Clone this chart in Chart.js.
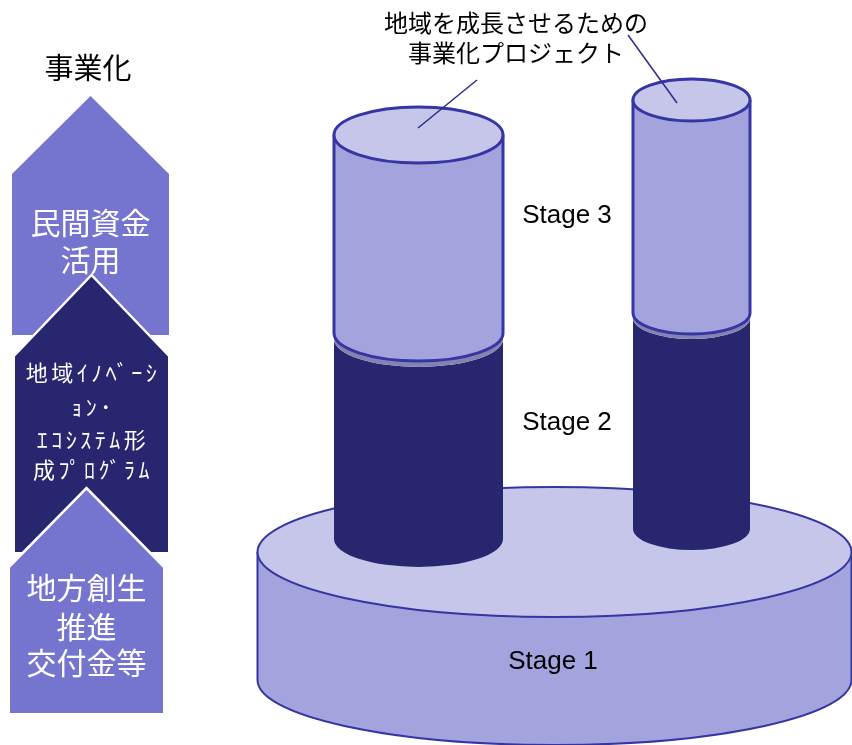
<!DOCTYPE html>
<html>
<head>
<meta charset="utf-8">
<script src="https://cdn.jsdelivr.net/npm/chart.js@4.4.1/dist/chart.umd.min.js"></script>
<style>
  html, body { margin: 0; padding: 0; background: #ffffff; }
  #wrap { width: 852px; height: 745px; }
</style>
</head>
<body>
<div id="wrap"><canvas id="chart" width="852" height="745"></canvas></div>
<script>
// diagram, in axis units (x 0-852, y 0-745 from the top)
const stageNames = ['Stage 1', 'Stage 2', 'Stage 3'];
const stageLabelX = [553, 567, 567];
const stageLabelY = [662, 423, 216];

// base disc (Stage 1)
const baseCenterX = 554.5;
const baseRadiusX = 297;
const baseRadiusY = 65;
const baseTop = 552;
const baseBottom = 680;

// two project columns: Stage 2 (dark) under Stage 3 (light)
const columnCenterX = [418.5, 691.5];
const columnRadiusX = [84.5, 58.5];
const columnRadiusY = [28, 21];
const stage3Top = [135, 100];
const stage3Bottom = [333, 313];
const stage2Top = [339, 318];
const stage2Bottom = [539, 529];

// callout
const calloutText = ['地域を成長させるための', '事業化プロジェクト'];
const calloutLineX = [[477, 418], [628, 677]];
const calloutLineY = [[80, 128], [35, 103]];

// left arrows
const arrowTitle = '事業化';
const arrowTexts = [
  ['民間資金', '活用'],
  ['地域ｲﾉﾍﾞｰｼ', 'ｮﾝ･', 'ｴｺｼｽﾃﾑ形', '成ﾌﾟﾛｸﾞﾗﾑ'],
  ['地方創生', '推進', '交付金等']
];
const arrowLeft = [12, 15, 10];
const arrowRight = [169, 168, 163];
const arrowTip = [96, 275, 488];
const arrowShoulder = [174, 355, 566];
const arrowBottom = [335, 552, 713];
const arrowTextY = [[223, 260], [373, 407, 440, 470], [588, 627, 663]];

const LIGHT = '#c6c6ea';
const MID = '#a3a3de';
const DARK = '#27266f';
const EDGE = '#3535a3';
const ARROW = '#7574cf';

function drawCylinderBody(ctx, cx, rx, top, bottom, ryTop, ryBot, fill) {
  ctx.beginPath();
  ctx.moveTo(cx - rx, top);
  ctx.lineTo(cx - rx, bottom);
  ctx.ellipse(cx, bottom, rx, ryBot, 0, Math.PI, 0, true);
  ctx.lineTo(cx + rx, top);
  ctx.ellipse(cx, top, rx, ryTop, 0, 0, Math.PI, false);
  ctx.closePath();
  ctx.fillStyle = fill;
  ctx.fill();
}

const diagramPlugin = {
  id: 'diagram',
  beforeDatasetsDraw(chart) {
    const ctx = chart.ctx;
    const sx = chart.scales.x, sy = chart.scales.y;
    const X = v => sx.getPixelForValue(v);
    const Y = v => sy.getPixelForValue(v);
    const k = X(1) - X(0);
    ctx.save();

    // arrows
    arrowTexts.forEach(function(lines, i) {
      const l = X(arrowLeft[i]), r = X(arrowRight[i]), c = (l + r) / 2;
      ctx.beginPath();
      ctx.moveTo(c, Y(arrowTip[i]));
      ctx.lineTo(r, Y(arrowShoulder[i]));
      ctx.lineTo(r, Y(arrowBottom[i]));
      ctx.lineTo(l, Y(arrowBottom[i]));
      ctx.lineTo(l, Y(arrowShoulder[i]));
      ctx.closePath();
      ctx.fillStyle = i === 1 ? DARK : ARROW;
      ctx.fill();
      if (i > 0) {
        ctx.beginPath();
        ctx.moveTo(l - 3, Y(arrowShoulder[i]) + 3);
        ctx.lineTo(c, Y(arrowTip[i]));
        ctx.lineTo(r + 3, Y(arrowShoulder[i]) + 3);
        ctx.strokeStyle = '#ffffff';
        ctx.lineWidth = 2.5;
        ctx.stroke();
      }
      ctx.fillStyle = '#ffffff';
      ctx.textAlign = 'center';
      ctx.textBaseline = 'middle';
      if (i === 1) {
        ctx.font = '22px "Noto Sans CJK JP"';
        ctx.letterSpacing = '3.5px';
      } else {
        ctx.font = '30px "Noto Sans CJK JP"';
        ctx.letterSpacing = '0px';
      }
      lines.forEach(function(t, j) {
        ctx.fillText(t, c + (i === 1 ? 1.5 : 0), Y(arrowTextY[i][j]));
      });
      ctx.letterSpacing = '0px';
    });

    ctx.fillStyle = '#000000';
    ctx.font = '29px "Noto Sans CJK JP"';
    ctx.textAlign = 'center';
    ctx.textBaseline = 'middle';
    ctx.fillText(arrowTitle, X(88), Y(68));

    // base disc
    const bcx = X(baseCenterX), brx = baseRadiusX * k, bry = baseRadiusY * k;
    drawCylinderBody(ctx, bcx, brx, Y(baseTop), Y(baseBottom), bry, bry, MID);
    ctx.strokeStyle = EDGE;
    ctx.lineWidth = 2;
    ctx.beginPath();
    ctx.moveTo(bcx - brx, Y(baseTop));
    ctx.lineTo(bcx - brx, Y(baseBottom));
    ctx.ellipse(bcx, Y(baseBottom), brx, bry, 0, Math.PI, 0, true);
    ctx.lineTo(bcx + brx, Y(baseTop));
    ctx.stroke();
    ctx.beginPath();
    ctx.ellipse(bcx, Y(baseTop), brx, bry, 0, 0, Math.PI * 2);
    ctx.fillStyle = LIGHT;
    ctx.fill();
    ctx.stroke();

    // columns
    columnCenterX.forEach(function(cxv, i) {
      const cx = X(cxv), rx = columnRadiusX[i] * k, ry = columnRadiusY[i] * k;
      // Stage 2
      drawCylinderBody(ctx, cx, rx, Y(stage2Top[i]), Y(stage2Bottom[i]), ry, ry, DARK);
      ctx.beginPath();
      ctx.ellipse(cx, Y(stage2Top[i]), rx, ry, 0, 0, Math.PI * 2);
      ctx.fillStyle = '#8383b2';
      ctx.fill();
      // Stage 3
      drawCylinderBody(ctx, cx, rx, Y(stage3Top[i]), Y(stage3Bottom[i]), ry, ry, MID);
      ctx.strokeStyle = EDGE;
      ctx.lineWidth = 3;
      ctx.beginPath();
      ctx.moveTo(cx - rx, Y(stage3Top[i]));
      ctx.lineTo(cx - rx, Y(stage3Bottom[i]));
      ctx.ellipse(cx, Y(stage3Bottom[i]), rx, ry, 0, Math.PI, 0, true);
      ctx.lineTo(cx + rx, Y(stage3Top[i]));
      ctx.stroke();
      ctx.beginPath();
      ctx.ellipse(cx, Y(stage3Top[i]), rx, ry, 0, 0, Math.PI * 2);
      ctx.fillStyle = LIGHT;
      ctx.fill();
      ctx.stroke();
    });

    // stage labels
    ctx.fillStyle = '#000000';
    ctx.font = '26px "Liberation Sans"';
    stageNames.forEach(function(s, i) {
      ctx.fillText(s, X(stageLabelX[i]), Y(stageLabelY[i]));
    });

    // callout text
    ctx.font = '24px "Noto Sans CJK JP"';
    ctx.fillText(calloutText[0], X(516), Y(23));
    ctx.fillText(calloutText[1], X(516), Y(53));
    ctx.restore();
  }
};

new Chart(document.getElementById('chart'), {
  type: 'scatter',
  data: {
    datasets: calloutLineX.map(function(xs, i) {
      return {
        data: xs.map(function(x, j) { return { x: x, y: calloutLineY[i][j] }; }),
        showLine: true,
        borderColor: '#2b2b8f',
        borderWidth: 1.5,
        pointRadius: 0
      };
    })
  },
  options: {
    responsive: false,
    animation: false,
    devicePixelRatio: 1,
    layout: { padding: 0 },
    plugins: { legend: { display: false }, tooltip: { enabled: false } },
    scales: {
      x: { type: 'linear', min: 0, max: 852, display: false },
      y: { type: 'linear', min: 0, max: 745, reverse: true, display: false }
    }
  },
  plugins: [diagramPlugin]
});
</script>
</body>
</html>
